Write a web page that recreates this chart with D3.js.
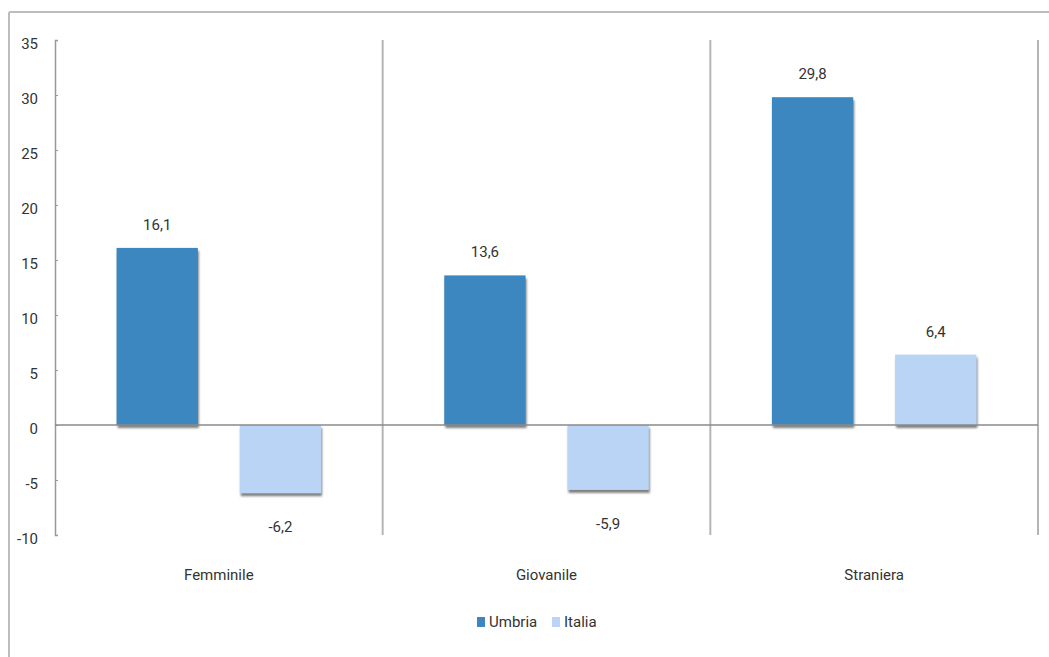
<!DOCTYPE html>
<html>
<head>
<meta charset="utf-8">
<script src="https://cdn.jsdelivr.net/npm/d3@7"></script>
<style>
  html, body { margin: 0; padding: 0; background: #fff; }
  svg { display: block; }
  text { font-family: Roboto, "Liberation Sans Narrow", sans-serif; fill: #333; }
</style>
</head>
<body>
<svg id="chart" width="1049" height="657"></svg>
<script>
// Variazione percentuale per tipologia di impresa
const categories = ["Femminile", "Giovanile", "Straniera"];
const series = ["Umbria", "Italia"];
const umbria = [16.1, 13.6, 29.8];
const italia = [-6.2, -5.9, 6.4];
const yTicks = [35, 30, 25, 20, 15, 10, 5, 0, -5, -10];
const colors = ["#3c87c1", "#bad4f6"];

const values = [umbria, italia];
const rows = categories.map((c, i) => ({
  category: c,
  items: series.map((s, j) => ({ series: s, value: values[j][i], color: colors[j] }))
}));

const svg = d3.select("#chart");
const fmt = v => String(v).replace(".", ",");

const plot = { left: 55, right: 1038, top: 40, bottom: 535 };

const y = d3.scaleLinear().domain([-10, 35]).range([plot.bottom, plot.top]);
const x0 = d3.scaleBand().domain(categories).range([plot.left, plot.right]).padding(0);
const x1 = d3.scaleBand().domain(series).range([0, x0.bandwidth()])
  .paddingInner(0.34).paddingOuter(0.5);

// drop shadow under each bar
const defs = svg.append("defs");
const f = defs.append("filter").attr("id", "shadow")
  .attr("x", "-10%").attr("y", "-10%").attr("width", "130%").attr("height", "130%");
f.append("feDropShadow").attr("dx", 1).attr("dy", 3).attr("stdDeviation", 1.2)
  .attr("flood-color", "#555").attr("flood-opacity", 0.75);

// outer frame (top and left edges visible)
svg.append("line").attr("x1", 9).attr("x2", 1049).attr("y1", 12).attr("y2", 12)
  .attr("stroke", "#bdbdbd").attr("stroke-width", 2);
svg.append("line").attr("x1", 9).attr("x2", 9).attr("y1", 12).attr("y2", 657)
  .attr("stroke", "#bdbdbd").attr("stroke-width", 2);

// category separators
const seps = categories.map(c => x0(c) + x0.bandwidth());
svg.append("g").selectAll("line").data(seps).join("line")
  .attr("x1", d => d).attr("x2", d => d)
  .attr("y1", plot.top).attr("y2", plot.bottom)
  .attr("stroke", "#b5b5b5").attr("stroke-width", 2);

// y axis
const yAxis = d3.axisRight(y).tickValues(yTicks).tickSize(3).tickFormat("");
const ya = svg.append("g").attr("transform", `translate(${plot.left},0)`).call(yAxis);
ya.select(".domain").attr("stroke", "#999").attr("stroke-width", 1.5);
ya.selectAll(".tick line").attr("stroke", "#999");

svg.append("g").selectAll("text").data(yTicks).join("text")
  .attr("x", 38).attr("y", d => y(d) + 5)
  .attr("text-anchor", "end").attr("dominant-baseline", "middle")
  .style("font-size", "15px")
  .text(d => d);

// bars
const groups = svg.append("g").selectAll("g").data(rows).join("g")
  .attr("transform", d => `translate(${x0(d.category)},0)`);

groups.selectAll("rect").data(d => d.items).join("rect")
  .attr("x", d => x1(d.series))
  .attr("width", x1.bandwidth())
  .attr("y", d => y(Math.max(0, d.value)))
  .attr("height", d => Math.abs(y(d.value) - y(0)))
  .attr("fill", d => d.color)
  .attr("filter", "url(#shadow)");

// value labels
groups.selectAll("text.val").data(d => d.items).join("text")
  .attr("class", "val")
  .attr("x", d => x1(d.series) + x1.bandwidth() / 2)
  .attr("y", d => d.value >= 0 ? y(d.value) - 22 : y(d.value) + 35)
  .attr("text-anchor", "middle").attr("dominant-baseline", "middle")
  .style("font-size", "15px")
  .text(d => fmt(d.value));

// zero line
svg.append("line")
  .attr("x1", plot.left).attr("x2", plot.right)
  .attr("y1", y(0)).attr("y2", y(0))
  .attr("stroke", "#8a8a8a").attr("stroke-width", 1.5);

// category labels
svg.append("g").selectAll("text").data(categories).join("text")
  .attr("x", d => x0(d) + x0.bandwidth() / 2)
  .attr("y", 576)
  .attr("text-anchor", "middle").attr("dominant-baseline", "middle")
  .style("font-size", "15px")
  .text(d => d);

// legend
const legend = svg.append("g");
const legendX = [477, 552];
series.forEach((s, i) => {
  legend.append("rect").attr("x", legendX[i]).attr("y", 617)
    .attr("width", 8).attr("height", 10).attr("fill", colors[i]);
  legend.append("text").attr("x", legendX[i] + 12).attr("y", 623)
    .attr("dominant-baseline", "middle").style("font-size", "15px").text(s);
});
</script>
</body>
</html>
